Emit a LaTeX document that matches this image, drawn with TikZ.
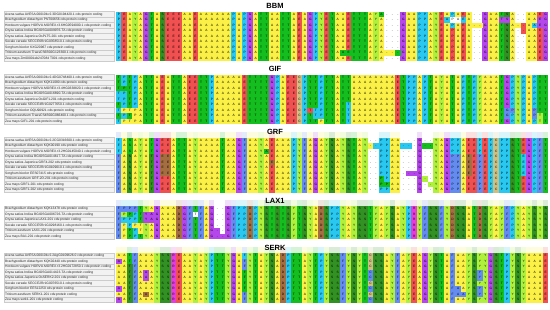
\documentclass[tikz,border=0pt]{standalone}
\usepackage{fontspec}
\setmainfont{Liberation Sans}
\setsansfont{Liberation Sans}
% 残基の色
\definecolor{alnc}{RGB}{40,200,240}
\definecolor{alnr}{RGB}{240,80,80}
\definecolor{alny}{RGB}{250,240,70}
\definecolor{alnl}{RGB}{175,240,60}
\definecolor{alnp}{RGB}{180,70,235}
\definecolor{alng}{RGB}{20,190,30}
\definecolor{alnd}{RGB}{50,145,35}
\definecolor{alnb}{RGB}{100,140,240}
\definecolor{alnn}{RGB}{165,110,65}
\definecolor{alnm}{RGB}{230,60,220}
\definecolor{alnt}{RGB}{205,190,130}
\definecolor{alnw}{RGB}{255,255,255}
% 色ごとの残基文字
\def\alnLc{P}\def\alnLr{E}\def\alnLy{A}\def\alnLl{Y}\def\alnLp{G}\def\alnLg{T}
\def\alnLd{S}\def\alnLb{F}\def\alnLn{D}\def\alnLm{R}\def\alnLt{C}\def\alnLw{-}
% #1 名前, #2 上端, #3 行数, #4 ラベル, #5 列の色, #6 例外セル, #7 タイトル
\newcommand{\alnblock}[7]{%
  \node[alntitle] (#1) at (275,#2-5.5) {#7};
  % 列ごとの色
  \foreach \k [count=\c from 0] in {#5}{%
    \fill[aln\k] (116+\c*5.47,#2) rectangle ++(5.6,#3*5.5);
  }
  % 例外セル
  \foreach \c/\k/\ra/\rb in {#6}{%
    \fill[aln\k] (116+\c*5.47,#2+\ra*5.5) rectangle ++(5.6,\rb*5.5-\ra*5.5+5.5);
  }
  % ラベルと残基
  \foreach \lab [count=\r from 0] in {#4}{%
    \draw[labbox] (4,#2+\r*5.5) rectangle (114,#2+\r*5.5+5.5);
    \node[seqlab] (#1-lab\r) at (5,#2+\r*5.5+2.75) {\lab};
    \node[res] (#1-res\r) at (116,#2+\r*5.5+2.75)
      {\foreach \k in {#5}{\makebox[5.47pt]{\csname alnL\k\endcsname}}};
  }
}
% 薄い帯
\newcommand{\alnhint}[2]{%
  \foreach \k [count=\c from 0] in {#2}{%
    \fill[aln\k!18] (116+\c*5.47,#1-6) rectangle ++(5.6,6);
  }
}
\begin{document}
\begin{tikzpicture}[x=1pt,y=-1pt,
  alntitle/.style={font=\bfseries\fontsize{7.5}{8}\selectfont, inner sep=0pt},
  seqlab/.style={anchor=west, inner sep=0pt, font=\fontsize{3.3}{3.5}\selectfont, text=black!85},
  res/.style={anchor=west, inner sep=0pt, font=\fontsize{3.2}{3.2}\selectfont, text=black},
  labbox/.style={fill=gray!10, draw=gray!40, line width=0.15pt}]
  \useasboundingbox[fill=white] (0,0) rectangle (550,309);
  % 薄い帯
  \alnhint{137.5}{b,y,d,y,l,y,g,p,r,r,y,g,g,y,l,y,y,y,y,g,y,y,p,b,y,y,l,y,r,y,y,y,c,l,b,y,p,y,l,d,y,l,d,g,y,l,w,w,c,c,y,y,w,w,w,p,w,w,l,y,p,c,c,y,r,r,c,r,c,t,c,c,d,g,r,p,c,b,g}
  \alnhint{206}{b,c,c,c,g,l,y,p,y,y,y,n,p,b,g,b,y,p,w,w,p,b,c,c,n,c,l,d,g,d,g,d,l,g,d,l,y,n,d,c,c,l,y,l,d,d,g,l,y,l,d,y,l,c,m,l,b,d,d,b,l,n,d,d,y,g,n,d,l,y,l,b,c,l,y,l,d,l,d}
  \alnhint{253}{y,y,g,b,y,y,y,l,d,d,m,r,y,y,l,y,l,c,g,g,l,p,y,b,l,g,y,l,d,y,n,c,g,g,y,l,g,c,l,d,d,b,l,d,l,g,t,d,d,y,l,b,y,l,r,y,p,l,d,g,y,b,y,y,l,d,l,l,p,d,g,c,l,d,l,y,y,y,r}
  % BBM
  \alnblock{bbm}{11.5}{9}{Avena sativa AVESA.00010b.r2.3DG0194420.1 cds:protein coding,
    Brachypodium distachyon PNT00656 cds:protein coding,
    Hordeum vulgare HORVU.MOREX.r3.6HG0594000.1 cds:protein coding,
    Oryza sativa Indica BGIOSGA009976-TA cds:protein coding,
    Oryza sativa Japonica OsPLT5-201 cds:protein coding,
    Secale cereale SECCE6Rr1G0358510.1 cds:protein coding,
    Sorghum bicolor KXG20967 cds:protein coding,
    Triticum aestivum TraesCS6B02G123300.1 cds:protein coding,
    Zea mays Zm00001eb247084 T001 cds:protein coding}
  {c,r,y,l,y,p,g,y,d,r,r,r,y,y,r,y,y,y,y,y,y,c,y,c,p,y,g,g,y,y,g,g,y,r,y,p,c,l,r,g,y,y,r,g,g,g,y,l,y,w,w,w,p,y,y,c,c,y,l,r,y,c,y,r,y,w,w,p,y,y,g,d,y,w,w,y,y,r,p}
  {48/g/0/0, 49/y/7/7, 50/y/7/7, 51/g/7/7, 41/g/7/7, 42/g/7/7, 60/c/1/1, 61/w/1/1, 62/w/1/1, 63/c/1/1, 61/r/3/8, 65/y/2/2, 66/y/2/2, 70/p/1/1, 71/p/1/1, 73/y/2/2, 74/r/2/3, 76/c/2/2, 77/p/1/2}
  {BBM}
  % GIF
  \alnblock{gif}{74.5}{9}{Avena sativa AVESA.00010b.r2.4DG0748400.1 cds:protein coding,
    Brachypodium distachyon KQK11080 cds:protein coding,
    Hordeum vulgare HORVU.MOREX.r3.4HG0338820.1 cds:protein coding,
    Oryza sativa Indica BGIOSGA016690-TA cds:protein coding,
    Oryza sativa Japonica OsGIF1-201 cds:protein coding,
    Secale cereale SECCE4Rr1G0277650.1 cds:protein coding,
    Sorghum bicolor OQU90921 cds:protein coding,
    Triticum aestivum TraesCS4B02G066400.1 cds:protein coding,
    Zea mays GIF1-201 cds:protein coding}
  {g,c,g,c,y,g,g,y,r,y,g,g,y,r,r,g,g,c,y,y,y,y,y,r,g,g,g,g,p,c,y,r,r,t,c,g,g,c,g,g,y,g,g,y,y,y,y,y,y,y,y,r,g,c,c,y,c,g,y,l,y,g,y,c,g,c,l,y,y,y,g,p,c,l,c,y,c,g,g}
  {0/c/3/4, 0/c/6/6, 0/c/8/8, 1/g/2/2, 1/y/6/6, 1/y/8/8, 2/y/6/6, 2/y/8/8, 3/y/6/8, 42/c/5/8, 35/r/6/6, 36/c/6/7, 37/y/8/8, 71/b/6/7, 72/b/6/6, 76/b/6/7, 77/l/7/8}
  {GIF}
  % GRF
  \alnblock{grf}{137.5}{10}{Avena sativa AVESA.00010b.r2.2CG0316600.1 cds:protein coding,
    Brachypodium distachyon KQK00190 cds:protein coding,
    Hordeum vulgare HORVU.MOREX.r3.2HG0145040.1 cds:protein coding,
    Oryza sativa Indica BGIOSGA014617-TA cds:protein coding,
    Oryza sativa Japonica GRF4-202 cds:protein coding,
    Secale cereale SECCE2Rr1G0109010.1 cds:protein coding,
    Sorghum bicolor EES07415 cds:protein coding,
    Triticum aestivum GRF-2D-201 cds:protein coding,
    Zea mays GRF1-201 cds:protein coding,
    Zea mays GRF1-202 cds:protein coding}
  {b,y,d,y,l,y,g,p,r,r,y,g,g,y,l,y,y,y,y,g,y,y,p,b,y,y,l,y,r,y,y,y,c,l,b,y,p,y,l,d,y,l,d,g,y,l,w,w,c,c,y,y,w,w,w,p,w,w,l,y,p,c,c,y,r,r,c,r,c,t,c,c,d,g,r,p,c,b,g}
  {8/n/3/6, 9/n/3/6, 64/n/3/6, 61/b/3/9, 62/b/3/9, 66/b/3/9, 0/c/0/2, 6/d/3/9, 2/g/0/2, 46/y/1/1, 47/c/1/1, 52/c/1/1, 53/c/1/1, 56/g/1/1, 57/g/1/1, 53/p/6/6, 54/p/6/6, 48/g/7/8, 49/g/8/8, 56/l/7/7, 57/l/8/8, 74/c/3/6, 27/g/2/2, 28/n/4/4}
  {GRF}
  % LAX1
  \alnblock{lax}{206}{6}{Brachypodium distachyon KQK13478 cds:protein coding,
    Oryza sativa Indica BGIOSGA006726-TA cds:protein coding,
    Oryza sativa Japonica LAX1-201 cds:protein coding,
    Secale cereale SECCE5Rr1G0298160.1 cds:protein coding,
    Triticum aestivum LAX1-201 cds:protein coding,
    Zea mays BA1-201 cds:protein coding}
  {b,c,c,c,g,l,y,p,y,y,y,n,p,b,g,b,y,p,w,w,p,b,c,c,n,c,l,d,g,d,g,d,l,g,d,l,y,n,d,c,c,l,y,l,d,d,g,l,y,l,d,y,l,c,m,l,b,d,d,b,l,n,d,d,y,g,n,d,l,y,l,b,c,l,y,l,d,l,d}
  {1/b/0/0, 2/b/0/0, 3/b/0/0, 1/l/1/1, 2/g/1/1, 1/y/3/5, 2/g/4/5, 3/y/3/3, 4/y/3/4, 5/p/1/2, 6/p/1/2, 14/w/1/1, 18/p/4/5, 19/p/5/5}
  {LAX1}
  % SERK
  \alnblock{serk}{253}{9}{Avena sativa AVESA.00010b.r2.2AgG0109626.0 cds:protein coding,
    Brachypodium distachyon KQK02440 cds:protein coding,
    Hordeum vulgare HORVU.MOREX.r3.2HG0172850.1 cds:protein coding,
    Oryza sativa Indica BGIOSGA014423-TA cds:protein coding,
    Oryza sativa Japonica OsSERK2-201 cds:protein coding,
    Secale cereale SECCE2Rr1G0076510.1 cds:protein coding,
    Sorghum bicolor EES12250 cds:protein coding,
    Triticum aestivum SERK1-201 cds:protein coding,
    Zea mays serk1-201 cds:protein coding}
  {y,y,g,b,y,y,y,l,d,d,m,r,y,y,l,y,l,c,g,g,l,p,y,b,l,g,y,l,d,y,n,c,g,g,y,l,g,c,l,d,d,b,l,d,l,g,t,d,d,y,l,b,y,l,r,y,p,l,d,g,y,b,y,y,l,d,l,l,p,d,g,c,l,d,l,y,y,y,r}
  {0/p/1/1, 0/p/6/6, 0/p/8/8, 5/p/3/4, 5/n/7/7, 2/d/2/8, 23/c/0/0, 23/g/3/6, 46/b/3/4, 46/b/6/6, 46/b/8/8, 62/b/6/7, 63/b/7/7, 66/b/3/4, 66/b/6/7}
  {SERK}
\end{tikzpicture}
\end{document}
